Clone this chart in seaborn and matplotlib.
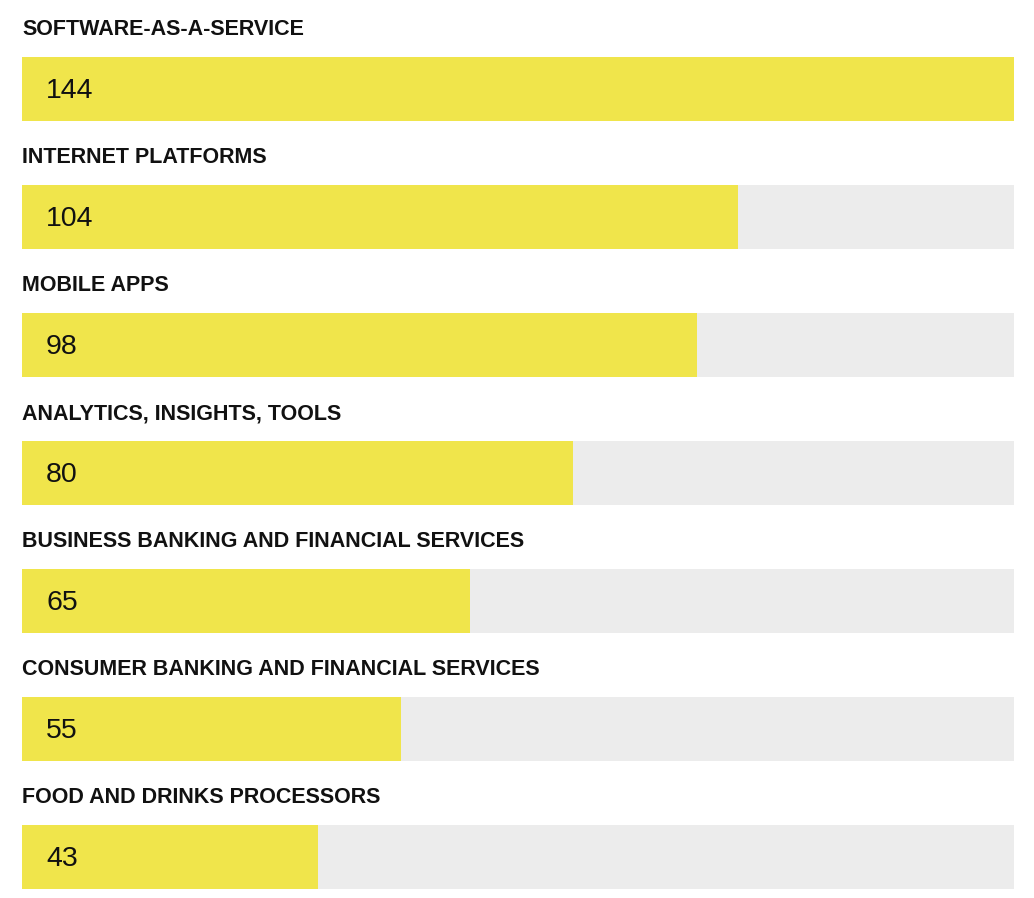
import matplotlib
matplotlib.use("Agg")
import matplotlib.pyplot as plt
import seaborn as sns
import pandas as pd

categories = [
    "SOFTWARE-AS-A-SERVICE",
    "INTERNET PLATFORMS",
    "MOBILE APPS",
    "ANALYTICS, INSIGHTS, TOOLS",
    "BUSINESS BANKING AND FINANCIAL SERVICES",
    "CONSUMER BANKING AND FINANCIAL SERVICES",
    "FOOD AND DRINKS PROCESSORS",
]
values = [144, 104, 98, 80, 65, 55, 43]

YELLOW = "#F0E54B"
GRAY = "#ECECEC"

sns.set_theme(style="white")
plt.rcParams["font.family"] = ["Liberation Sans", "DejaVu Sans"]

df = pd.DataFrame({"category": categories, "value": values})
max_val = max(values)

fig = plt.figure(figsize=(10.34, 8.98), dpi=100)
ax = fig.add_axes([22 / 1034, 0, 992 / 1034, 1])

# background track bars
sns.barplot(data=pd.DataFrame({"category": categories, "value": [max_val] * len(categories)}),
            x="value", y="category", orient="h", color=GRAY, saturation=1,
            width=0.5, ax=ax, edgecolor="none")
# value bars
sns.barplot(data=df, x="value", y="category", orient="h", color=YELLOW, saturation=1,
            width=0.5, ax=ax, edgecolor="none")

ax.set_xlim(0, max_val)
ax.set_ylim(6.32, -0.695)
ax.axis("off")

for i, (cat, val) in enumerate(zip(categories, values)):
    ax.text(0, i - 0.462, cat, ha="left", va="center", fontsize=15.5,
            fontweight="bold", color="#111111")
    ax.text(max_val * 24 / 992, i + 0.016, str(val), ha="left", va="center",
            fontsize=20.5, color="#111111")

fig.savefig("out.png", dpi=100)
